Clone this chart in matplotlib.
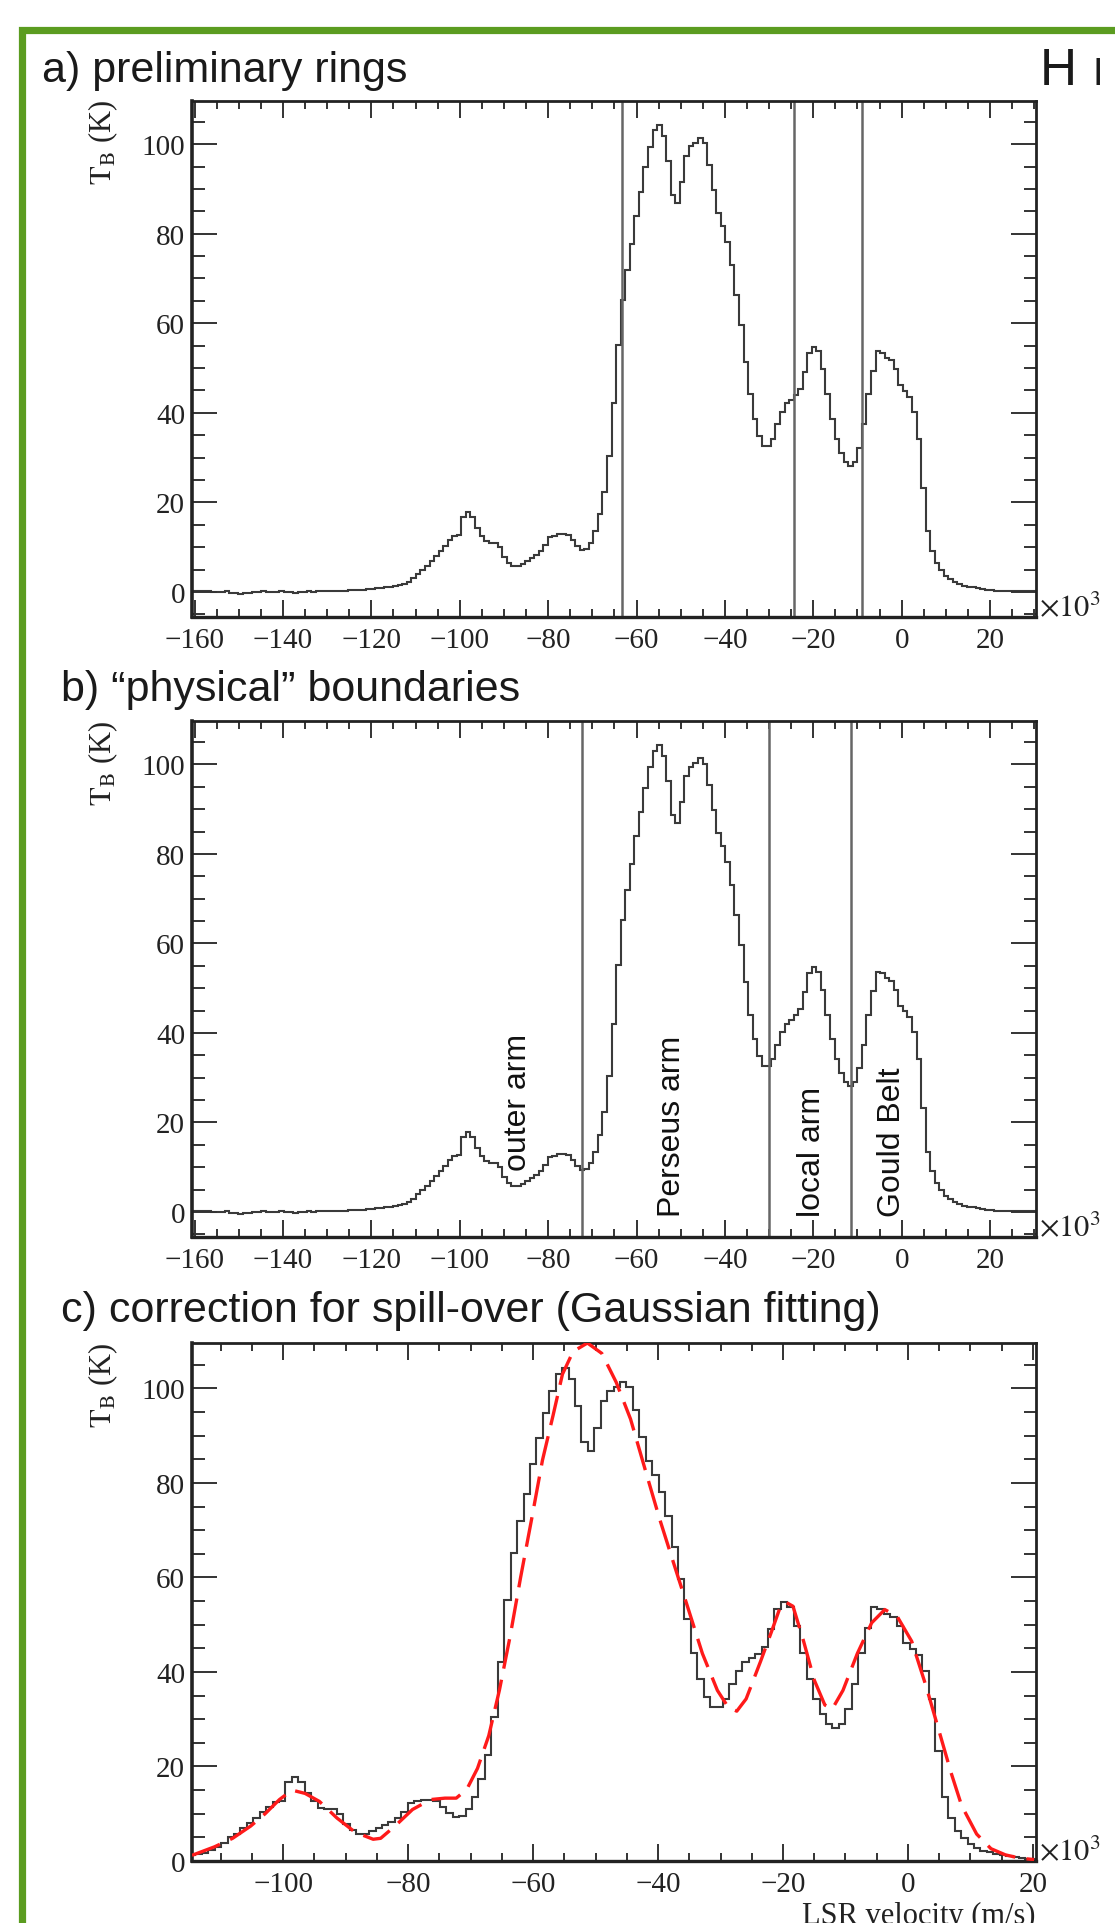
import numpy as np
import matplotlib
matplotlib.use('Agg')
import matplotlib.pyplot as plt
from matplotlib.patches import Rectangle
from matplotlib.ticker import MultipleLocator

plt.rcParams['font.family'] = ['Liberation Serif', 'DejaVu Serif']
plt.rcParams['mathtext.fontset'] = 'stix'

# HI spectrum: brightness temperature per channel (K), channel width 1.03 (x10^3 m/s)
chan_width = 1.03
v_first_edge = -160.41
tb = [
    0.2, 0.3, 0.2, 0.1, 0.0, -0.1, 0.0, 0.1, -0.2, -0.3,
    -0.4, -0.3, -0.2, -0.1, 0.0, 0.1, 0.0, -0.1, 0.0, 0.1,
    0.0, -0.1, -0.2, -0.1, 0.0, 0.1, 0.0, 0.1, 0.2, 0.1,
    0.2, 0.3, 0.2, 0.3, 0.4, 0.5, 0.4, 0.5, 0.6, 0.7,
    0.8, 0.9, 1.0, 1.1,
    1.3, 1.5, 1.7, 2.3, 3.0, 3.9, 5.0, 5.8, 7.0, 8.1,
    9.1, 10.3, 11.5, 12.5, 12.8, 16.8, 17.8, 16.8, 14.3, 12.6,
    11.3, 10.9, 10.9, 10.0, 7.8, 6.5, 5.8, 5.8, 6.3, 6.9,
    7.6, 8.3, 9.1, 10.4,
    12.2, 12.6, 12.9, 13.0, 12.8, 11.5, 10.2, 9.3, 9.6, 11.0,
    13.5, 17.3, 22.4, 30.4, 42.1,
    55.2, 65.2, 71.9, 77.7, 83.9, 89.4, 94.8, 99.4, 103.1, 104.3,
    101.9, 96.3, 88.6, 86.8, 91.6, 97.4, 99.5, 100.3, 101.4, 100.2,
    95.4, 89.8, 84.7, 81.7, 78.1, 73.1, 66.4, 59.6, 51.3, 44.1,
    38.6, 34.8, 32.6, 32.6, 34.2, 37.4, 40.1, 42.1, 42.9, 43.9,
    45.3, 49.1, 53.3, 54.7, 53.7, 49.7, 44.1, 38.6, 34.2, 31.0,
    29.0, 28.2, 29.0, 32.2, 37.4, 44.1, 49.3, 53.7, 53.3, 52.3,
    51.7, 49.7, 46.1, 44.9, 43.6, 40.1, 34.2, 23.2, 13.5, 9.1,
    6.4, 4.8, 3.6, 2.8, 2.2, 1.8, 1.4, 1.2, 1.0, 0.8,
    0.6, 0.5, 0.4, 0.3, 0.3, 0.2, 0.2, 0.2, 0.2, 0.2,
    0.2, 0.2, 0.2,
]
edges = v_first_edge + chan_width * np.arange(len(tb) + 1)

# ring boundaries (x10^3 m/s)
bounds_prelim = [-63.3, -24.3, -9.0]
bounds_phys = [-72.3, -30.1, -11.5]

arm_names = ['outer arm', 'Perseus arm', 'local arm', 'Gould Belt']
arm_v = [-86.9, -52.0, -20.3, -2.2]
arm_y = [9.4, -0.9, -0.9, -0.9]

# Gaussian fit (red dashed)
fit_v = [-114.6, -111.0, -108.1, -105.2, -102.9, -100.6, -98.6, -96.5, -94.2, -91.4,
         -88.5, -85.6, -84.4, -82.1, -79.3, -76.4, -74.1, -72.3, -70.6, -68.9,
         -67.1, -65.4, -63.7, -62.0, -60.2, -58.5, -56.8, -55.3, -53.6, -51.3,
         -49.0, -46.7, -44.4, -42.1, -39.8, -37.5, -35.2, -32.9, -30.5, -28.8,
         -27.4, -25.9, -23.6, -21.9, -20.5, -19.6, -18.4, -16.7, -15.0, -13.3,
         -12.1, -10.4, -8.1, -5.8, -3.7, -1.7, 0.6, 2.9, 5.2, 6.9,
         8.6, 11.0, 13.3, 15.6, 17.9, 20.2]
fit_tb = [1.2, 3.0, 4.8, 7.4, 10.0, 13.0, 15.0, 14.3, 12.6, 9.1,
          6.1, 4.6, 4.8, 7.4, 10.9, 13.0, 13.3, 13.3, 15.2, 19.6,
          26.5, 36.1, 47.4, 60.0, 72.6, 84.8, 94.3, 103.0, 107.8, 109.6,
          107.4, 101.3, 93.5, 83.0, 72.6, 63.0, 53.5, 43.9, 36.1, 32.6,
          31.7, 34.3, 42.2, 48.3, 53.5, 54.8, 53.9, 46.5, 38.3, 33.0,
          32.2, 36.1, 43.9, 50.4, 53.2, 51.7, 46.5, 37.0, 26.5, 18.7,
          11.7, 5.7, 2.6, 1.3, 0.6, 0.3]

W, H = 1115, 1924
fig = plt.figure(figsize=(W / 100, H / 100), dpi=100)
fig.patch.set_facecolor('white')

# green frame around the whole thing
fig.add_artist(Rectangle((21.5 / W, -0.1), 2.0, 1 - 30.5 / H + 0.1, transform=fig.transFigure,
                         fill=False, edgecolor='#5b9c20', linewidth=5.2))

sans = ['Liberation Sans', 'DejaVu Sans']


def make_axes(top_px, bottom_px):
    return fig.add_axes([192 / W, 1 - bottom_px / H, 844 / W, (bottom_px - top_px) / H])


def style(ax, xlim, ylim):
    ax.set_xlim(*xlim)
    ax.set_ylim(*ylim)
    ax.xaxis.set_major_locator(MultipleLocator(20))
    ax.xaxis.set_minor_locator(MultipleLocator(5))
    ax.yaxis.set_major_locator(MultipleLocator(20))
    ax.yaxis.set_minor_locator(MultipleLocator(5))
    ax.tick_params(axis='x', which='major', direction='in', length=12, width=1.4,
                   top=True, labelsize=21, pad=7, color='#333333', labelcolor='#222222')
    ax.tick_params(axis='x', which='minor', direction='in', length=6, width=1.4,
                   top=True, color='#333333')
    ax.tick_params(axis='y', which='major', direction='in', length=18, width=1.4,
                   right=True, labelsize=21, pad=5, color='#333333', labelcolor='#222222')
    ax.tick_params(axis='y', which='minor', direction='in', length=9, width=1.4,
                   right=True, color='#333333')
    for s in ax.spines.values():
        s.set_linewidth(2.0)
        s.set_color('#222222')
    ax.spines['left'].set_linewidth(2.6)
    ax.spines['bottom'].set_linewidth(2.4)
    ax.text(-0.1055, 1.003, r'$\mathrm{T_B}$ (K)', rotation=90, ha='center', va='top',
            transform=ax.transAxes, fontsize=22, color='#222222')
    ax.text(1.004, 0.018, r'$\times10^{3}$', ha='left', va='center',
            transform=ax.transAxes, fontsize=22, color='#222222')


hist_kw = dict(color='#3a3a3a', linewidth=1.5, baseline=None)

# a) preliminary rings
ax_a = make_axes(101.7, 618)
ax_a.stairs(tb, edges, **hist_kw)
for b in bounds_prelim:
    ax_a.axvline(b, color='#666666', linewidth=1.8)
style(ax_a, (-160.6, 30.4), (-5.6, 109.7))

# b) "physical" boundaries
ax_b = make_axes(722, 1238)
ax_b.stairs(tb, edges, **hist_kw)
for b in bounds_phys:
    ax_b.axvline(b, color='#666666', linewidth=1.8)
for name, v, y in zip(arm_names, arm_v, arm_y):
    ax_b.text(v, y, name, rotation=90, ha='center', va='bottom', fontsize=23,
              family=sans, color='#111111')
style(ax_b, (-160.6, 30.4), (-5.6, 109.7))

# c) Gaussian fit
ax_c = make_axes(1344, 1862)
ax_c.stairs(tb, edges, **hist_kw)
ax_c.plot(fit_v, fit_tb, color='#ff1a1a', linewidth=2.4, dashes=(9, 3.4), zorder=3)
style(ax_c, (-114.6, 20.5), (0, 109.6))
ax_c.text(1.0, -0.077, 'LSR velocity (m/s)', ha='right', va='top', transform=ax_c.transAxes,
          fontsize=22, color='#222222')

# panel titles
fig.text(42 / W, 1 - 82 / H, 'a) preliminary rings', fontsize=31, family=sans,
         va='baseline', color='#1a1a1a')
fig.text(61 / W, 1 - 701 / H, 'b) \u201cphysical\u201d boundaries', fontsize=31,
         family=sans, va='baseline', color='#1a1a1a')
fig.text(61 / W, 1 - 1322 / H, 'c) correction for spill-over (Gaussian fitting)', fontsize=31,
         family=sans, va='baseline', color='#1a1a1a')

# HI tag at top right
fig.text(1040 / W, 1 - 85 / H, 'H', fontsize=37, family=sans, va='baseline', color='#1a1a1a')
fig.text(1093 / W, 1 - 85 / H, 'I', fontsize=27, family=sans, va='baseline', color='#1a1a1a')

fig.savefig('out.png', dpi=100)
